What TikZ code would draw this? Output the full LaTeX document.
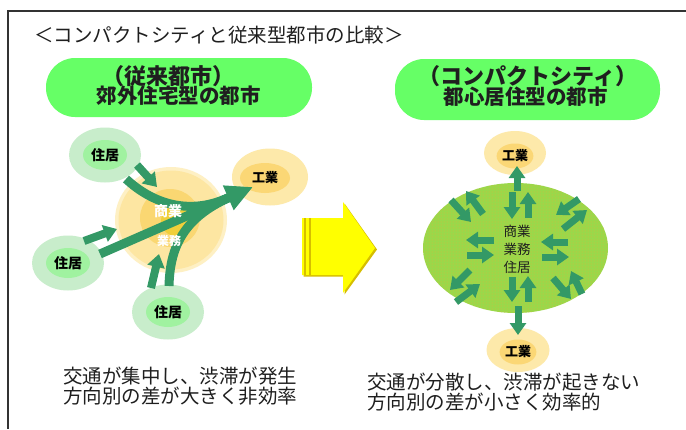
\documentclass[tikz,border=0pt]{standalone}
\usepackage{fontspec}
\setmainfont{Noto Sans CJK JP}
\usetikzlibrary{arrows.meta,patterns,shapes.geometric}
\definecolor{pillg}{HTML}{66FF66}
\definecolor{resoutc}{HTML}{C8EDCB}
\definecolor{resinc}{HTML}{A0F2A0}
\definecolor{indoutc}{HTML}{FDE9AA}
\definecolor{indinc}{HTML}{FBD775}
\definecolor{arrowg}{HTML}{339966}
\definecolor{yelc}{HTML}{FFFF00}
\definecolor{yeldark}{HTML}{D6BE00}
\definecolor{cityc}{HTML}{9AD84A}
\definecolor{cityd}{HTML}{E2B43C}
\definecolor{shopa}{HTML}{FEF0C4}
\definecolor{shopb}{HTML}{FDE6A2}
\definecolor{shopc}{HTML}{FAD772}
\definecolor{shopd}{HTML}{F0CF3A}
\newcommand\myfs[1]{\fontsize{#1}{#1}\selectfont}
\tikzset{
  resout/.style={ellipse, fill=resoutc, minimum width=72pt, minimum height=55pt, inner sep=0pt},
  resin/.style={ellipse, fill=resinc, minimum width=44pt, minimum height=30pt, inner sep=0pt, font=\bfseries\myfs{14}},
  indout/.style={ellipse, fill=indoutc, inner sep=0pt},
  indin/.style={ellipse, fill=indinc, inner sep=0pt, font=\bfseries\myfs{13}},
  band/.style={draw=arrowg, line width=9pt},
  fatl/.style={draw=arrowg, line width=8pt, -{Triangle[width=17pt,length=13pt]}},
  fat/.style={draw=arrowg, line width=7pt, -{Triangle[width=16pt,length=12pt]}},
  pill/.style={fill=pillg, rounded corners=29pt, inner sep=0pt},
  txt/.style={inner sep=0pt, text=black!88},
}
\begin{document}
\begin{tikzpicture}[x=1pt,y=-1pt]
\useasboundingbox (0,0) rectangle (686,429);
\fill[white] (0,0) rectangle (686,429);
% frame
\draw[line width=1.5pt, black!80] (686,11) -- (8,11) -- (8,429);
% title
\node[txt, anchor=west, font=\myfs{19.5}] (title) at (34,35) {＜コンパクトシティと従来型都市の比較＞};
% pills
\node[pill, minimum width=266pt, minimum height=59pt] (pillL) at (179,87.5) {};
\node[pill, minimum width=265pt, minimum height=61pt] (pillR) at (527.5,89.5) {};
\node[txt, font=\bfseries\myfs{22}] (pL1) at (168,76) {（従来都市）};
\node[txt, font=\bfseries\myfs{20.5}] (pL2) at (178.5,96) {郊外住宅型の都市};
\node[txt, font=\bfseries\myfs{22}] (pR1) at (528,76) {（コンパクトシティ）};
\node[txt, font=\bfseries\myfs{20.5}] (pR2) at (525.5,97) {都心居住型の都市};

% ---------- left diagram ----------
\node[ellipse, fill=shopa, minimum width=112pt, minimum height=106pt, inner sep=0pt] (shop) at (171,220) {};
\node[ellipse, fill=shopb, minimum width=105pt, minimum height=99pt, inner sep=0pt] (shopB) at (171,220) {};
\node[ellipse, fill=shopc, minimum width=60pt, minimum height=58pt, inner sep=0pt] (shopC) at (170,218) {};
\node[ellipse, fill=shopd, minimum width=30pt, minimum height=30pt, inner sep=0pt] (shopD) at (176,221) {};

\node[resout] (r1o) at (105,155) {};
\node[resin] (r1) at (105,155) {住居};
\node[resout] (r2o) at (68,263) {};
\node[resin] (r2) at (68,263) {住居};
\node[resout] (r3o) at (168,312) {};
\node[resin] (r3) at (168,312) {住居};

\node[indout, minimum width=76pt, minimum height=57pt] (i1o) at (270,177) {};
\node[indin, minimum width=50pt, minimum height=30pt] (i1) at (265,178) {工業};

% flows
\coordinate (hb) at (228.3,197.8);
\coordinate (tip) at (253,187);
\coordinate (c1s) at (126,179);
\coordinate (c3s) at (169,286);
\coordinate (c2s) at (100,254);
\draw[band] (c1s) .. controls (152,203) and (188,216) .. (hb);
\draw[band] (c3s) .. controls (170,245) and (185,218) .. (hb);
\draw[band, -{Triangle[width=25pt,length=27pt]}] (c2s) -- (tip);

\coordinate (a1s) at (137,165); \coordinate (a1e) at (157,187);
\coordinate (a2s) at (84,241);  \coordinate (a2e) at (117,229);
\coordinate (a3s) at (151,288); \coordinate (a3e) at (159,254);
\draw[fatl] (a1s) -- (a1e);
\draw[fatl] (a2s) -- (a2e);
\draw[fatl] (a3s) -- (a3e);

% labels in the commercial core
\node[txt, text=white, font=\bfseries\myfs{14}] (shopL1) at (168,211) {商業};
\node[txt, text=white, font=\bfseries\myfs{12}] (shopL2) at (169,241) {業務};

% ---------- big yellow arrow ----------
\fill[yeldark] (303.5,219.5) -- (344.5,219.5) -- (344.5,203.5) -- (377,249.5) -- (344.5,294.5) -- (344.5,276.5) -- (303.5,276.5) -- cycle;
\fill[yelc] (302,218) -- (343,218) -- (343,202) -- (375,248) -- (343,293) -- (343,275) -- (302,275) -- cycle;
\draw[yeldark, line width=1.2pt] (305,218) -- (305,275);
\draw[yeldark, line width=1.2pt] (310,218) -- (310,275);

% ---------- right diagram ----------
\node[indout, minimum width=62pt, minimum height=44pt] (i2o) at (515,153) {};
\node[indin, minimum width=36pt, minimum height=25pt] (i2) at (515,156) {工業};
\node[indout, minimum width=63pt, minimum height=44pt] (i3o) at (518,350) {};
\node[indin, minimum width=36pt, minimum height=25pt] (i3) at (518,352) {工業};

\node[ellipse, fill=cityc, postaction={pattern=dots, pattern color=cityd}, minimum width=185pt, minimum height=130pt, inner sep=0pt] (city) at (515.5,248) {};
\node[txt, font=\myfs{13.5}] (cL1) at (517,231) {商業};
\node[txt, font=\myfs{13.5}] (cL2) at (517,249) {業務};
\node[txt, font=\myfs{13.5}] (cL3) at (517,267) {住居};

\foreach \i/\sx/\sy/\ex/\ey in {
  1/517/191/517/166, 2/512/192/512/219, 3/528/218/528/192,
  4/512/277/512/302, 5/528/302/528/276, 6/518/306/518/335,
  7/494/240/466/240, 8/467/255/494/255, 9/568/242/541/242, 10/542/257/569/257,
  11/451/200/471/222, 12/483/214/466/191, 13/579/199/556/215, 14/563/229/587/210,
  15/470/270/450/290, 16/456/302/480/284, 17/553/278/571/299, 18/582/294/571/271}
{
  \coordinate (rs\i) at (\sx,\sy);
  \coordinate (re\i) at (\ex,\ey);
  \draw[fat] (rs\i) -- (re\i);
}

% ---------- bottom texts ----------
\node[txt, anchor=west, font=\myfs{19.5}] (bL1) at (63,376) {交通が集中し、渋滞が発生};
\node[txt, anchor=west, font=\myfs{19.5}] (bL2) at (63,396) {方向別の差が大きく非効率};
\node[txt, anchor=west, font=\myfs{19.5}] (bR1) at (367,382) {交通が分散し、渋滞が起きない};
\node[txt, anchor=west, font=\myfs{19.5}] (bR2) at (367,402) {方向別の差が小さく効率的};
\end{tikzpicture}
\end{document}
